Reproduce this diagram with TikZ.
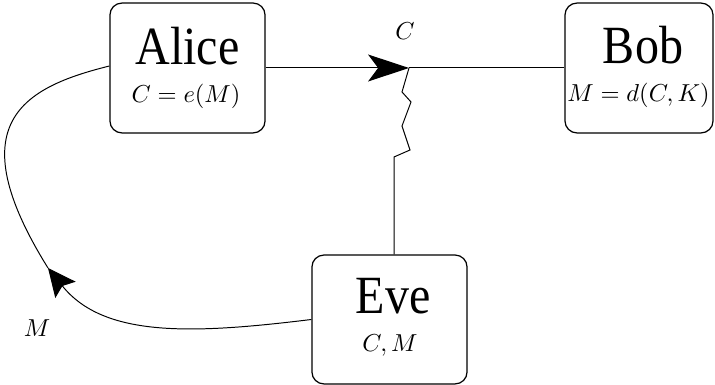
\documentclass[tikz,border=0pt]{standalone}
\usepackage{fontspec}
\usetikzlibrary{arrows.meta}
\newfontfamily\namefont{Liberation Serif}
\newcommand{\bigname}{\namefont\fontsize{19.6}{23}\selectfont}
\newcommand{\tallname}[1]{\scalebox{1}[1.12]{#1}}
\begin{document}
\begin{tikzpicture}[x=0.408pt,y=-0.408pt,
  party/.style={draw, line width=0.5pt, rounded corners=4.9pt, minimum height=53pt, inner sep=0pt},
  partyname/.style={anchor=base, font=\bigname, inner sep=0pt},
  formula/.style={anchor=base, inner sep=0pt},
  wire/.style={line width=0.4pt},
  bigtip/.style={-{Stealth[length=16.7pt,width=11pt,inset=4.1pt]}},
  smalltip/.style={-{Stealth[length=11.4pt,width=10.6pt,inset=2pt]}}]
\useasboundingbox (0,0) rectangle (715,385);
% boxes
\node[party, minimum width=63.3pt] (alice) at (187.5,68) {};
\node[party, minimum width=60.4pt] (bob) at (639,68) {};
\node[party, minimum width=63.3pt, minimum height=52.6pt] (eve) at (389.5,319.5) {};
% texts
\node[partyname] (alicename) at (187.5,64.5) {\tallname{Alice}};
\node[formula] (alicemath) at (186,103) {$C=e(M)$};
\node[partyname] (bobname) at (643,64) {\tallname{Bob}};
\node[formula] (bobmath) at (638.5,102) {$M=d(C,K)$};
\node[partyname] (evename) at (393,314) {\tallname{Eve}};
\node[formula] (evemath) at (390,351.5) {$C,M$};
% channel
\coordinate (junction) at (409,68);
\draw[wire, bigtip] (alice.east) -- (junction);
\draw[wire] (junction) -- (bob.west);
\node (clabel) at (405,31) {$C$};
% tap
\coordinate (zigend) at (394,157);
\draw[wire] (junction) -- (402,92) -- (411,102) -- (402,126) -- (410,150) -- (zigend) -- (zigend |- eve.north);
% leak back to Alice
\coordinate (mtip) at (48,268);
\draw[wire, smalltip] (eve.west) .. controls (193,334) and (104,338) .. (mtip);
\draw[wire] (mtip) .. controls (-42,123.5) and (22.7,87.5) .. ([yshift=0.8pt]alice.west);
\node (mlabel) at (37,328) {$M$};
\end{tikzpicture}
\end{document}
